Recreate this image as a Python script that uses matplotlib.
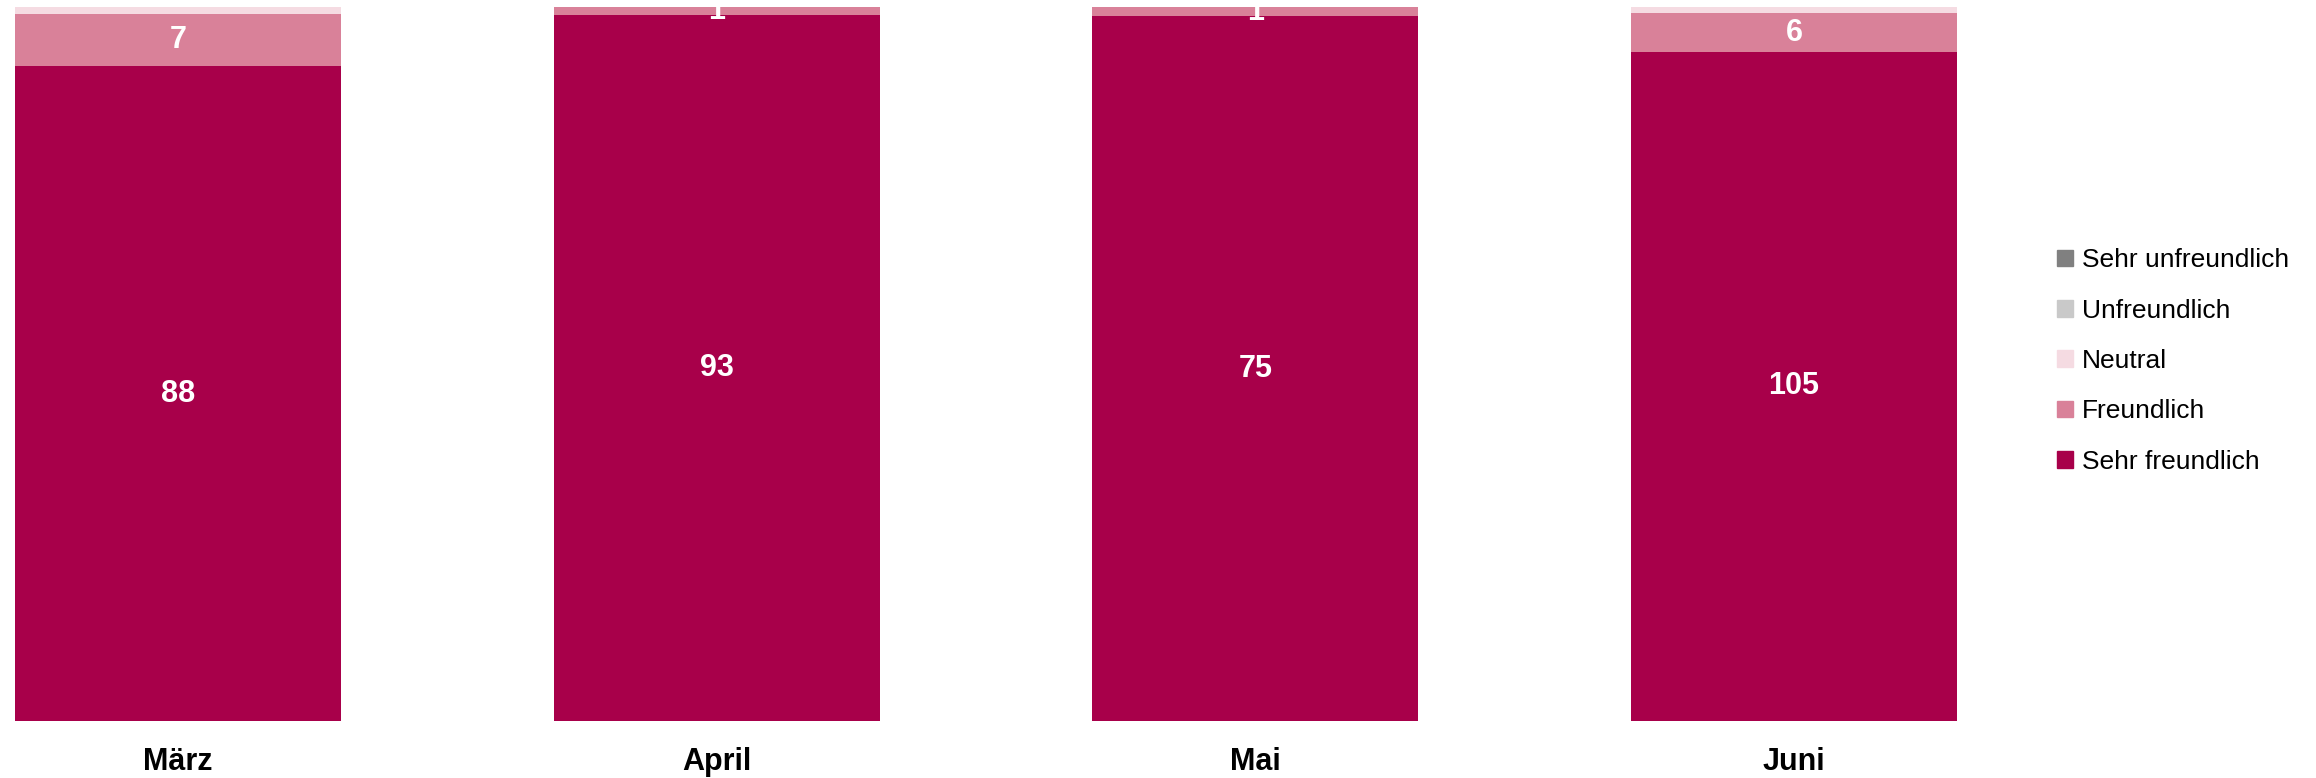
import matplotlib.pyplot as plt
import numpy as np
from matplotlib.patches import Patch

months = ['März', 'April', 'Mai', 'Juni']
sehr_freundlich = [88, 93, 75, 105]
freundlich = [7, 1, 1, 6]
neutral = [1, 0, 0, 1]
unfreundlich = [0, 0, 0, 0]
sehr_unfreundlich = [0, 0, 0, 0]

series = [sehr_freundlich, freundlich, neutral, unfreundlich, sehr_unfreundlich]
names = ['Sehr freundlich', 'Freundlich', 'Neutral', 'Unfreundlich', 'Sehr unfreundlich']
colors = ['#a8004a', '#d98199', '#f5dbe2', '#c9c9c9', '#808080']
show_labels = [True, True, False, False, False]

plt.rcParams['font.family'] = ['Liberation Sans Narrow', 'Liberation Sans', 'DejaVu Sans']

fig = plt.figure(figsize=(23.16, 7.78), dpi=100)
ax = fig.add_axes([0, 0.0733, 0.86, 0.9177])

data = np.array(series, dtype=float)
totals = data.sum(axis=0)
share = data / totals
x = np.arange(len(months))
bottom = np.zeros(len(months))
for vals, sh, name, col, lab in zip(data, share, names, colors, show_labels):
    ax.bar(x, sh, bottom=bottom, width=0.605, color=col, label=name, linewidth=0)
    if lab:
        for xi, v, s, b in zip(x, vals, sh, bottom):
            if v > 0:
                ax.text(xi, b + s / 2, f'{int(v)}', ha='center', va='center',
                        color='white', fontsize=22, fontweight='bold')
    bottom += sh

ax.set_xlim(-0.3304, 3.367)
ax.set_ylim(0, 1)
ax.set_xticks(x)
ax.set_xticklabels(months, fontsize=22, fontweight='bold')
ax.tick_params(axis='x', length=0, pad=19)
ax.set_yticks([])
for s in ax.spines.values():
    s.set_visible(False)

handles = [Patch(color=c, label=n) for c, n in zip(colors, names)][::-1]
fig.legend(handles=handles, loc='center left', bbox_to_anchor=(2057 / 2316, 1 - 361 / 778),
           frameon=False, fontsize=19, handlelength=0.6, handleheight=0.6,
           handletextpad=0.35, labelspacing=1.0, borderpad=0, borderaxespad=0)

plt.savefig('out.png', dpi=100)
